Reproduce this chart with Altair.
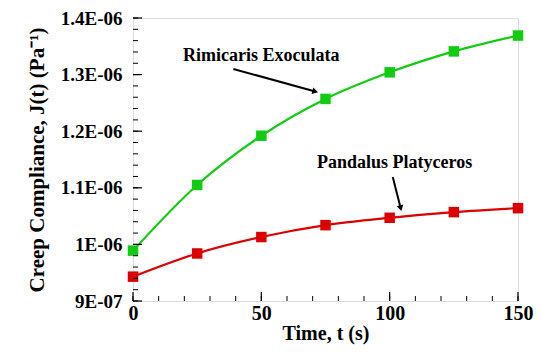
import altair as alt
import pandas as pd

# ---- data ----
time_s = [0, 25, 50, 75, 100, 125, 150]
rimicaris = [0.989e-6, 1.105e-6, 1.192e-6, 1.257e-6, 1.304e-6, 1.341e-6, 1.369e-6]
pandalus = [0.943e-6, 0.984e-6, 1.013e-6, 1.034e-6, 1.047e-6, 1.057e-6, 1.064e-6]
series_names = ["Rimicaris Exoculata", "Pandalus Platyceros"]
series_colors = ["#11cc11", "#dd0000"]

y_major = [9e-7, 1.0e-6, 1.1e-6, 1.2e-6, 1.3e-6, 1.4e-6]
y_minor = [9e-7 + i * 2e-8 for i in range(26)]
x_major = [0, 50, 100, 150]
x_minor = list(range(0, 151, 10))

W, H = 385, 283
FONT = "Liberation Serif"

df = pd.DataFrame({
    "t": time_s * 2,
    "J": rimicaris + pandalus,
    "series": [series_names[0]] * len(time_s) + [series_names[1]] * len(time_s),
})

xs = alt.Scale(domain=[0, 150], nice=False, zero=False)
ys = alt.Scale(domain=[9e-7, 1.4e-6], nice=False, zero=False)
color = alt.Color("series:N", scale=alt.Scale(domain=series_names, range=series_colors), legend=None)

label_expr = "replace(upper(format(datum.value, '~e')), regexp('E-(\\\\d)$'), 'E-0$1')"

x_enc = alt.X("t:Q", scale=xs, axis=alt.Axis(
    values=x_major, title="Time, t (s)", domain=False, ticks=False, grid=False,
    labelFlush=False, labelOverlap=False,
    labelFont=FONT, labelFontWeight="bold", labelFontSize=20, labelColor="black",
    labelPadding=2, titleFont=FONT, titleFontWeight="bold", titleFontSize=20,
    titleColor="black", titlePadding=0))
y_enc = alt.Y("J:Q", scale=ys, axis=alt.Axis(
    values=y_major, title="Creep Compliance, J(t) (Pa⁻¹)", domain=False, ticks=False,
    grid=False, labelFlush=False, labelOverlap=False,
    labelExpr=label_expr, labelFont=FONT, labelFontWeight="bold",
    labelFontSize=19, labelColor="black", labelPadding=11, titleFont=FONT,
    titleFontWeight="bold", titleFontSize=21, titleColor="black", titlePadding=13))

lines = alt.Chart(df).mark_line(interpolate="monotone", strokeWidth=2.2).encode(
    x=x_enc, y=y_enc, color=color, detail="series:N")
points = alt.Chart(df).mark_point(shape="square", filled=True, size=110, opacity=1).encode(
    x="t:Q", y="J:Q", color=color)

# inward ticks
ym = alt.Chart(pd.DataFrame({"v": y_major})).mark_rule(color="black", strokeWidth=1.2).encode(
    y=alt.Y("v:Q", scale=ys), x=alt.value(0), x2=alt.value(9))
yn = alt.Chart(pd.DataFrame({"v": y_minor})).mark_rule(color="black", strokeWidth=1).encode(
    y=alt.Y("v:Q", scale=ys), x=alt.value(0), x2=alt.value(5))
xm = alt.Chart(pd.DataFrame({"v": x_major})).mark_rule(color="black", strokeWidth=1.2).encode(
    x=alt.X("v:Q", scale=xs), y=alt.value(H), y2=alt.value(H - 9))
xn = alt.Chart(pd.DataFrame({"v": x_minor})).mark_rule(color="black", strokeWidth=1).encode(
    x=alt.X("v:Q", scale=xs), y=alt.value(H), y2=alt.value(H - 5))

# annotations
def label(text, x, y):
    return alt.Chart(pd.DataFrame({"a": [0]})).mark_text(
        text=text, font=FONT, fontWeight="bold", fontSize=18, color="black",
        align="center", baseline="middle").encode(x=alt.datum(x, scale=xs), y=alt.datum(y, scale=ys))

def arrow(x1, y1, x2, y2, ang):
    line = alt.Chart(pd.DataFrame({"a": [0]})).mark_rule(color="black", strokeWidth=2).encode(
        x=alt.datum(x1), y=alt.datum(y1), x2=alt.datum(x2), y2=alt.datum(y2))
    head = alt.Chart(pd.DataFrame({"a": [0]})).mark_point(
        shape="triangle-up", filled=True, size=45, color="black", opacity=1, angle=ang).encode(
        x=alt.datum(x2), y=alt.datum(y2))
    return line + head

ann = (label(series_names[0], 50.0, 1.333e-6)
       + arrow(39.1, 1.310e-6, 71.0, 1.270e-6, 105.6)
       + label(series_names[1], 101.9, 1.143e-6)
       + arrow(101.2, 1.119e-6, 104.3, 1.064e-6, 165.6))

chart = alt.layer(lines, points, yn, ym, xn, xm, ann).properties(
    width=W, height=H,
    autosize=alt.AutoSizeParams(type="none"),
    padding={"left": 125, "top": 10, "right": 16, "bottom": 45},
).configure_view(stroke="black", strokeWidth=2).configure(background="white")

chart.save("out.html", embed_options={"renderer": "svg", "actions": False})
